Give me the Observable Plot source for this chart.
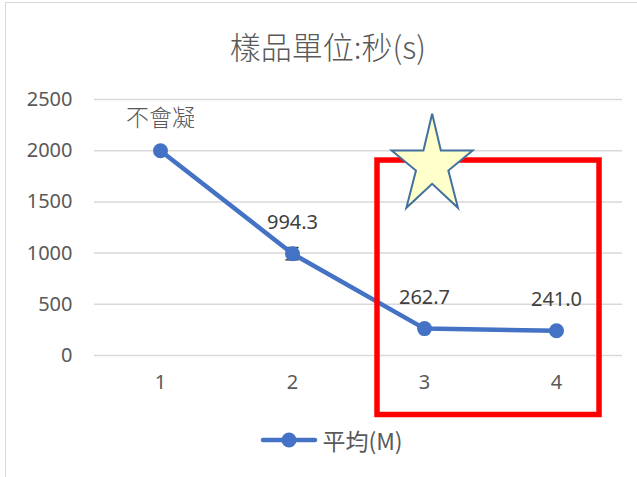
<!DOCTYPE html>
<html>
<head>
<meta charset="utf-8">
<script src="https://cdn.jsdelivr.net/npm/d3@7"></script>
<script src="https://cdn.jsdelivr.net/npm/@observablehq/plot@0.6"></script>
<style>
  html, body { margin: 0; padding: 0; background: #fff; }
  body { width: 637px; height: 477px; overflow: hidden; position: relative;
         font-family: "Noto Sans", "Noto Sans CJK TC", sans-serif; }
  #frame { position: absolute; left: 5px; top: 2px; width: 700px; height: 600px;
           border-left: 1.5px solid #D9D9D9; border-top: 1.5px solid #D9D9D9; }
  #title { position: absolute; left: 0; top: 28px; width: 656px; text-align: center;
           font-family: "Noto Sans CJK TC", sans-serif; font-weight: 300;
           font-size: 31px; line-height: 36px; color: #595959; }
  #chart { position: absolute; left: 0; top: 80px; }
  #legend { position: absolute; left: 0; top: 425px; width: 663px; height: 30px;
            display: flex; justify-content: center; align-items: center;
            font-family: "Noto Sans CJK TC", sans-serif; font-size: 23px; color: #595959; }
  #legend svg { margin-right: 4px; }
</style>
</head>
<body>
<div id="frame"></div>
<div id="title">樣品單位:秒(s)</div>
<div id="chart"></div>
<div id="legend"></div>
<script>
// ---- data ----
const categories = [1, 2, 3, 4];
const averages = [2000, 994.3, 262.7, 241.0];
const labels = ["不會凝", "994.3", "262.7", "241.0"];
const errorLow = [null, 934.3, null, null];
const errorHigh = [null, 1054.3, null, null];
const yTicks = [0, 500, 1000, 1500, 2000, 2500];
const seriesName = "平均(M)";
// annotation (in data units)
const boxX = [2.644, 4.326];
const boxY = [-581, 1904];
const starPos = [3.058, 1904];

const data = categories.map((c, i) => ({x: c, y: averages[i], label: labels[i], lo: errorLow[i], hi: errorHigh[i]}));
const errs = data.filter(d => d.lo != null);

const starSymbol = {
  draw(ctx) {
    const pts = [[0,-46.7],[8.7,-10],[40.5,-10],[16.2,10],[25.8,47.3],[0,23.3],[-25.8,47.3],[-16.2,10],[-40.5,-10],[-8.7,-10]];
    ctx.moveTo(pts[0][0], pts[0][1]);
    for (let i = 1; i < pts.length; i++) ctx.lineTo(pts[i][0], pts[i][1]);
    ctx.closePath();
  }
};

const blue = "#4472C4";
const fmt = d => String(d);
const plot = Plot.plot({
  width: 637,
  height: 345,
  marginLeft: 94,
  marginRight: 15,
  marginTop: 19,
  marginBottom: 70,
  style: {fontFamily: '"Noto Sans", "Noto Sans CJK TC", sans-serif', background: "transparent", overflow: "visible"},
  x: {domain: [0.5, 4.5], label: null},
  y: {domain: [0, 2500], label: null},
  marks: [
    Plot.ruleY(yTicks, {stroke: "#D9D9D9", strokeWidth: 1.5}),
    Plot.axisY({ticks: yTicks, tickFormat: fmt, tickSize: 0, tickPadding: 22, fontSize: 20, fill: "#595959", label: null}),
    Plot.axisX({ticks: categories, tickFormat: fmt, tickSize: 0, tickPadding: 19, fontSize: 20, fill: "#595959", label: null}),
    Plot.ruleX(errs, {x: "x", y1: "lo", y2: "hi", stroke: "#404040", strokeWidth: 1.5}),
    Plot.ruleY(errs, {y: "lo", x1: d => d.x - 0.05, x2: d => d.x + 0.05, stroke: "#404040", strokeWidth: 1.5}),
    Plot.ruleY(errs, {y: "hi", x1: d => d.x - 0.05, x2: d => d.x + 0.05, stroke: "#404040", strokeWidth: 1.5}),
    Plot.line(data, {x: "x", y: "y", stroke: blue, strokeWidth: 4.5, strokeLinejoin: "round", strokeLinecap: "round"}),
    Plot.dot(data, {x: "x", y: "y", r: 7.5, fill: blue}),
    Plot.text(data.slice(1), {x: "x", y: "y", text: "label", dy: -31, fontSize: 20, fill: "#404040"}),
    Plot.text(data.slice(0, 1), {x: "x", y: "y", text: "label", dy: -32, fontSize: 23, fill: "#595959",
      fontFamily: '"Noto Sans CJK TC", sans-serif', fontWeight: 300}),
    Plot.rect([{}], {x1: () => boxX[0], x2: () => boxX[1], y1: () => boxY[0], y2: () => boxY[1], fill: "none", stroke: "#FF0000", strokeWidth: 5.5}),
    Plot.dot([{}], {x: () => starPos[0], y: () => starPos[1], r: 10, symbol: starSymbol, fill: "#FFFFCC", stroke: "#41719C", strokeWidth: 2})
  ]
});
document.getElementById("chart").appendChild(plot);

// legend
const leg = document.getElementById("legend");
leg.innerHTML = `<svg width="58" height="20"><line x1="3" y1="10" x2="55" y2="10" stroke="${blue}" stroke-width="4.5" stroke-linecap="round"/><circle cx="29" cy="10" r="7.5" fill="${blue}"/></svg><span>${seriesName}</span>`;
</script>
</body>
</html>
